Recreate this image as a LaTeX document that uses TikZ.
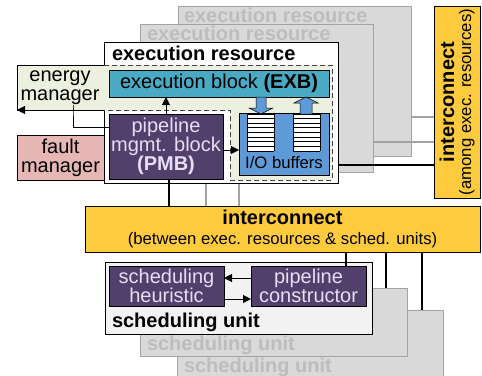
\documentclass[tikz,border=0pt]{standalone}
\usepackage{fontspec}
\setmainfont{Liberation Sans}
\usetikzlibrary{arrows.meta,calc}
\definecolor{exbteal}{HTML}{4AAAC4}
\definecolor{ioblue}{HTML}{5F9AD8}
\definecolor{icyellow}{HTML}{FFCB3E}
\definecolor{pmbpurple}{HTML}{533F6C}
\definecolor{pmbtext}{HTML}{E6DEF2}
\definecolor{faultpink}{HTML}{E6B7B4}
\definecolor{emgreen}{HTML}{EBF1DE}
\definecolor{ghostfill}{HTML}{D9D9D9}
\definecolor{ghostline}{HTML}{A3A3A3}
\definecolor{ghosttext}{HTML}{BDBDBD}
\definecolor{sufill}{HTML}{F2F2F2}
\newcommand\mkbox[7]{\node[#2, minimum width={(#5-#3)*1pt}, minimum height={(#6-#4)*1pt}, anchor=north west] (#1) at (#3,#4) {#7};}
\begin{document}
\begin{tikzpicture}[x=1pt,y=-1pt,
  every node/.style={inner sep=0pt, outer sep=0pt, font=\fontsize{20}{19}\selectfont, align=center},
  ghost/.style={draw=ghostline, fill=ghostfill, line width=0.9pt},
  ghostlabel/.style={text=ghosttext, font=\fontsize{20}{19}\selectfont\bfseries, anchor=west},
  blackbox/.style={draw=black, line width=0.9pt},
  purplebox/.style={blackbox, fill=pmbpurple, text=pmbtext},
  ghostwire/.style={draw=ghostline, line width=1.8pt},
  wire/.style={draw=black, line width=1.6pt},
  arr/.style={draw=black, line width=1pt, -{Triangle[length=8pt,width=8pt]}},
  dashedge/.style={draw=black!75, line width=0.9pt, dash pattern=on 5pt off 3pt},
  smalltext/.style={font=\fontsize{16.7}{17}\selectfont}
]
\useasboundingbox (0,0) rectangle (482,375);
\clip (0,0) rectangle (482,375);
% coordinates for wire positions
\coordinate (xa) at (169,0);
\coordinate (xb) at (206,0);
\coordinate (xc) at (239,0);
\coordinate (xd) at (346,0);
\coordinate (xe) at (386,0);
\coordinate (xf) at (422,0);
\coordinate (xg) at (166,0);
\coordinate (xh) at (73,0);
\coordinate (ya) at (0,117);
\coordinate (yb) at (0,142);
\coordinate (yc) at (0,165);
\coordinate (yd) at (0,127);
\coordinate (ye) at (0,150);
\coordinate (yf) at (0,278);
\coordinate (yg) at (0,299);

% ---- ghost execution resources
\mkbox{erC}{ghost}{178}{6}{411}{156}{}
\node[ghostlabel] (erClab) at (184,15) {execution resource};
\mkbox{erB}{ghost}{140}{24}{373}{172}{}
\node[ghostlabel] (erBlab) at (147,33) {execution resource};

% ---- vertical interconnect
\mkbox{vint}{blackbox, fill=icyellow}{434}{6}{480}{198}{}
\node[rotate=90] (vintlab) at (vint.center) {\textbf{interconnect}\\[-2pt]{\fontsize{16.7}{17}\selectfont(among exec. resources)}};

% ---- horizontal interconnect
\mkbox{hint}{blackbox, fill=icyellow}{85}{206}{480}{252}{\textbf{interconnect}\\[1pt]{\fontsize{16.7}{17}\selectfont(between exec. resources \& sched. units)}}

% ghost wires
\draw[ghostwire] (erC.south -| xc) -- (hint.north -| xc);
\draw[ghostwire] (erB.south -| xb) -- (hint.north -| xb);
\draw[ghostwire] (erC.east |- ya) -- (vint.west |- ya);
\draw[ghostwire] (erB.east |- yb) -- (vint.west |- yb);

% ---- front execution resource
\mkbox{erA}{blackbox, fill=white}{104}{42}{338}{183}{}
\node[anchor=west, font=\fontsize{20}{19}\selectfont\bfseries] (erAlab) at (112,53) {execution resource};
\draw[wire] (erA.east |- yc) -- (vint.west |- yc);

% ---- fault manager
\mkbox{fault}{blackbox, fill=faultpink}{17}{135}{104}{180}{fault\\manager}

% ---- energy manager region
\fill[emgreen] (17,65) -- (332,65) -- (332,180) -- (230,180) -- (230,110) -- (17,110) -- cycle;
\draw[black, line width=0.9pt] (104,65) -- (17,65) -- (17,110) -- (104,110);
\draw[dashedge] (104,65) -- (332,65) -- (332,180) -- (230,180) -- (230,110) -- (104,110);
\node (em) at (60,88) {energy\\manager};

% ---- execution block
\mkbox{exb}{blackbox, fill=exbteal}{109}{70}{329}{97}{execution block \textbf{(EXB)}}

% ---- I/O buffers
\mkbox{io}{blackbox, fill=ioblue}{239}{113}{329}{175}{}
\node[smalltext] (iolab) at (284,163) {I/O buffers};
\foreach \sx in {247,293}{
  \fill[white] (\sx,114) rectangle (\sx+27,151);
  \foreach \k in {0,...,8}
    \draw[black, line width=0.8pt] (\sx,{114+\k*4.625}) -- (\sx+27,{114+\k*4.625});
  \draw[black, line width=0.6pt] (\sx,114) -- (\sx,151) (\sx+27,114) -- (\sx+27,151);
}
\filldraw[fill=ioblue, draw=black, line width=0.5pt] (256,97) -- (266,97) -- (266,108) -- (273,108) -- (261,114) -- (249,108) -- (256,108) -- cycle;
\filldraw[fill=ioblue, draw=black, line width=0.5pt] (300,114) -- (312,114) -- (312,103) -- (318,103) -- (306,97) -- (294,103) -- (300,103) -- cycle;

% ---- PMB
\mkbox{pmb}{purplebox}{109}{114}{223}{179}{pipeline\\mgmt. block\\\textbf{(PMB)}}

% arrows from PMB
\draw[arr] (pmb.north -| xg) -- (exb.south -| xg);
\draw[arr] (pmb.west |- yd) -| (em.south -| xh) |- (17,110);
\draw[arr] (pmb.east |- ye) -- (io.west |- ye);
\draw[wire] (pmb.south -| xa) -- (hint.north -| xa);

% ---- scheduling units
\mkbox{suC}{ghost}{177}{310}{443}{400}{}
\node[ghostlabel] (suClab) at (184,367) {scheduling unit};
\draw[wire] (hint.south -| xf) -- (suC.north -| xf);
\mkbox{suB}{ghost}{140}{288}{407}{356}{}
\node[ghostlabel] (suBlab) at (147,345) {scheduling unit};
\draw[wire] (hint.south -| xe) -- (suB.north -| xe);
\mkbox{suA}{blackbox, fill=sufill}{105}{262}{372}{334}{}
\node[anchor=west, font=\fontsize{20}{19}\selectfont\bfseries] (suAlab) at (112,322) {scheduling unit};
\mkbox{heur}{purplebox}{109}{266}{224}{306}{scheduling\\heuristic}
\mkbox{cons}{purplebox}{251}{266}{366}{306}{pipeline\\constructor}
\draw[wire] (hint.south -| xd) -- (cons.north -| xd);
\draw[arr] (cons.west |- yf) -- (heur.east |- yf);
\draw[arr] (heur.east |- yg) -- (cons.west |- yg);
\end{tikzpicture}
\end{document}
